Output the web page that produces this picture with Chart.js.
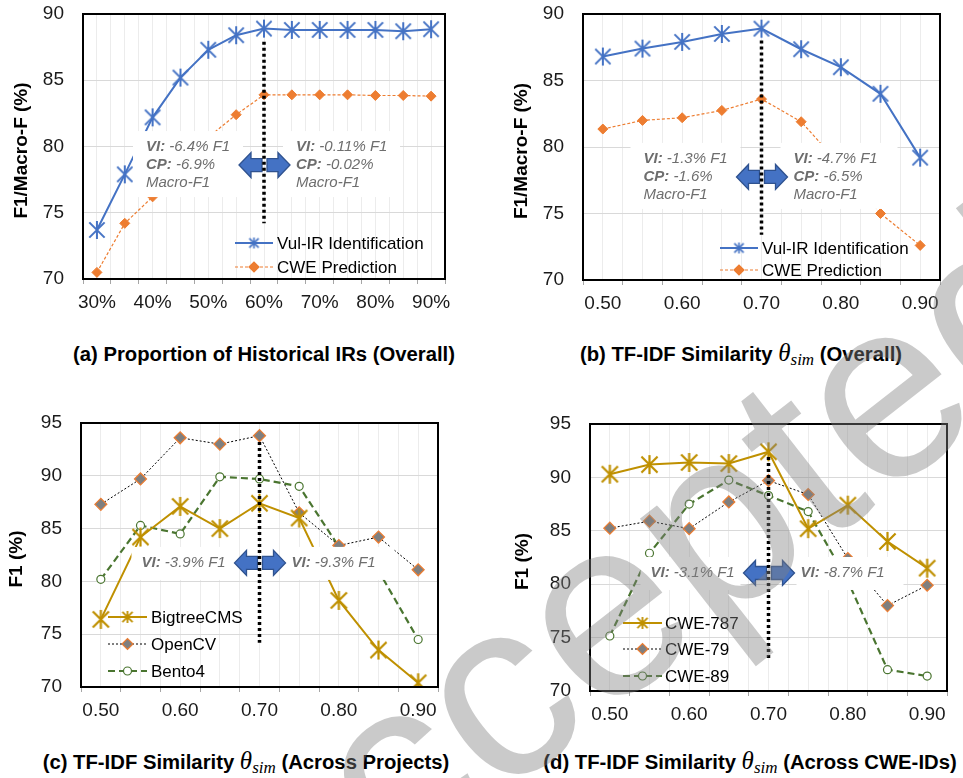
<!DOCTYPE html>
<html>
<head>
<meta charset="utf-8">
<script src="https://cdn.jsdelivr.net/npm/chart.js@4.4.1/dist/chart.umd.min.js"></script>
<style>
  html, body { margin: 0; padding: 0; background: #fff; }
  body { width: 963px; height: 778px; position: relative; overflow: hidden; font-family: "Liberation Sans", Arial, sans-serif; }
  canvas.panel { position: absolute; }
  .cap { position: absolute; transform: translate(-50%, -50%); white-space: nowrap; font-weight: bold; font-size: 20.3px; color: #000; }
  .cap .m { font-family: "Liberation Serif", "DejaVu Serif", serif; font-style: italic; font-weight: normal; font-size: 25px; }
  .cap .m sub { font-size: 17px; vertical-align: -4px; }
  #mark { position: absolute; left: 0; top: 0; pointer-events: none; }
</style>
</head>
<body>
<canvas id="pa" class="panel" width="470" height="320" style="left:0;top:0;width:470px;height:320px"></canvas>
<canvas id="pb" class="panel" width="483" height="320" style="left:480px;top:0;width:483px;height:320px"></canvas>
<canvas id="pc" class="panel" width="470" height="320" style="left:0;top:400px;width:470px;height:320px"></canvas>
<canvas id="pd" class="panel" width="483" height="320" style="left:480px;top:400px;width:483px;height:320px"></canvas>

<div class="cap" style="left:264px;top:354px">(a) Proportion of Historical IRs (Overall)</div>
<div class="cap" style="left:741px;top:354px">(b) TF-IDF Similarity <span class="m">θ<sub>sim</sub></span> (Overall)</div>
<div class="cap" style="left:246px;top:762px">(c) TF-IDF Similarity <span class="m">θ<sub>sim</sub></span> (Across Projects)</div>
<div class="cap" style="left:750px;top:762px">(d) TF-IDF Similarity <span class="m">θ<sub>sim</sub></span> (Across CWE-IDs)</div>

<canvas id="mark" width="963" height="778"></canvas>

<script>
// x categories
const proportionLabels = ["30%", "35%", "40%", "45%", "50%", "55%", "60%", "65%", "70%", "75%", "80%", "85%", "90%"];
const simLabels = ["0.50", "0.55", "0.60", "0.65", "0.70", "0.75", "0.80", "0.85", "0.90"];

// (a) proportion of historical IRs
const propVulIR = [73.7, 77.9, 82.2, 85.2, 87.3, 88.4, 88.9, 88.8, 88.8, 88.8, 88.8, 88.7, 88.85];
const propCWE = [70.5, 74.2, 76.2, 78.6, 80.7, 82.4, 83.9, 83.9, 83.9, 83.9, 83.85, 83.85, 83.8];

// (b) similarity threshold, overall
const simVulIR = [86.8, 87.4, 87.9, 88.5, 88.9, 87.35, 86.0, 84.0, 79.2];
const simCWE = [81.35, 82.0, 82.2, 82.75, 83.6, 81.9, 78.6, 75.0, 72.6];

// (c) across projects
const bigtreeF1 = [76.4, 84.2, 87.1, 85.0, 87.4, 86.0, 78.2, 73.5, 70.4];
const opencvF1 = [87.3, 89.7, 93.6, 93.0, 93.8, 86.5, 83.4, 84.2, 81.1];
const bento4F1 = [80.2, 85.3, 84.5, 89.9, 89.7, 89.0, 83.3, 81.0, 74.5];

// (d) across CWE-IDs
const cwe787F1 = [90.3, 91.2, 91.4, 91.3, 92.4, 85.2, 87.4, 84.0, 81.5];
const cwe79F1 = [85.25, 85.9, 85.2, 87.7, 89.7, 88.4, 82.4, 78.0, 79.9];
const cwe89F1 = [75.15, 82.9, 87.5, 89.75, 88.3, 86.8, 80.3, 72.0, 71.4];

const FONT = '"Liberation Sans", Arial, sans-serif';
Chart.defaults.font.family = FONT;

const BLUE = "#4472C4", ORANGE = "#ED7D31", GOLD = "#BF9000", GREEN = "#4A7530";

// excel-like asterisk marker (X plus a vertical bar)
function starMarker(size, color, lw) {
  const c = document.createElement("canvas");
  c.width = size; c.height = size;
  const g = c.getContext("2d");
  const h = size / 2, r = h - 1, d = r * 0.85;
  g.strokeStyle = color;
  g.lineWidth = lw;
  g.beginPath();
  g.moveTo(h, h - r); g.lineTo(h, h + r);
  g.moveTo(h - d, h - d); g.lineTo(h + d, h + d);
  g.moveTo(h + d, h - d); g.lineTo(h - d, h + d);
  g.stroke();
  return c;
}

const blueStar = starMarker(20, BLUE, 2);
const blueStarSmall = starMarker(13, BLUE, 1.6);
const goldStar = starMarker(21, GOLD, 2.2);
const goldStarSmall = starMarker(14, GOLD, 1.8);

const toXY = (arr) => arr.map((v, i) => ({ x: i, y: v }));

function vulIRSet(data) {
  return { label: "Vul-IR Identification", data: toXY(data), borderColor: BLUE, borderWidth: 2,
    pointStyle: blueStar, pointRadius: 10, legendMarker: { img: blueStarSmall } };
}
function cweSet(data) {
  return { label: "CWE Prediction", data: toXY(data), borderColor: ORANGE, borderWidth: 1.2, borderDash: [3, 2],
    pointStyle: "rectRot", pointRadius: 5, pointBackgroundColor: ORANGE, pointBorderColor: ORANGE, pointBorderWidth: 1,
    legendMarker: { shape: "diamond", r: 5, fill: ORANGE, stroke: ORANGE } };
}
function goldSet(label, data) {
  return { label: label, data: toXY(data), borderColor: GOLD, borderWidth: 2,
    pointStyle: goldStar, pointRadius: 10, legendMarker: { img: goldStarSmall } };
}
function graySet(label, data) {
  return { label: label, data: toXY(data), borderColor: "#000", borderWidth: 1, borderDash: [2, 2],
    pointStyle: "rectRot", pointRadius: 6, pointBackgroundColor: "#7F7F7F", pointBorderColor: ORANGE, pointBorderWidth: 1.2,
    legendMarker: { shape: "diamond", r: 5.5, fill: "#7F7F7F", stroke: ORANGE } };
}
function greenSet(label, data) {
  return { label: label, data: toXY(data), borderColor: GREEN, borderWidth: 2.2, borderDash: [7, 4],
    pointStyle: "circle", pointRadius: 4, pointBackgroundColor: "#fff", pointBorderColor: GREEN, pointBorderWidth: 1.2,
    legendMarker: { shape: "circle", r: 4, fill: "#fff", stroke: GREEN } };
}

const panels = [
  {
    id: "pa", labels: proportionLabels, ymin: 70, ymax: 90,
    box: { leftW: 83, top: 14, right: 25, bottomH: 41 },
    yTitle: "F1/Macro-F (%)", yTitleX: 22,
    datasets: [vulIRSet(propVulIR), cweSet(propCWE)],
    legend: { x1: 152, x2: 190, tx: 194, rows: [229, 253] },
    note: { at: 6, from: 87.9, to: 74.2, y: 78.6,
      left: [["VI:", " -6.4% F1"], ["CP:", " -6.9%"], ["", "Macro-F1"]],
      right: [["VI:", " -0.11% F1"], ["CP:", " -0.02%"], ["", "Macro-F1"]] }
  },
  {
    id: "pb", labels: simLabels, ymin: 70, ymax: 90,
    box: { leftW: 103, top: 14, right: 23, bottomH: 40 },
    yTitle: "F1/Macro-F (%)", yTitleX: 42,
    datasets: [vulIRSet(simVulIR), cweSet(simCWE)],
    legend: { x1: 137, x2: 175, tx: 179, rows: [234, 256] },
    note: { at: 4, from: 88.0, to: 73.4, y: 77.75,
      left: [["VI:", " -1.3% F1"], ["CP:", " -1.6%"], ["", "Macro-F1"]],
      right: [["VI:", " -4.7% F1"], ["CP:", " -6.5%"], ["", "Macro-F1"]] }
  },
  {
    id: "pc", labels: simLabels, ymin: 70, ymax: 95,
    box: { leftW: 81, top: 23, right: 32, bottomH: 33 },
    yTitle: "F1 (%)", yTitleX: 17,
    datasets: [goldSet("BigtreeCMS", bigtreeF1), graySet("OpenCV", opencvF1), greenSet("Bento4", bento4F1)],
    legend: { x1: 27, x2: 66, tx: 70, rows: [194, 221, 248] },
    note: { at: 4, from: 93.2, to: 74.2, y: 81.75,
      left: [["VI:", " -3.9% F1"]], right: [["VI:", " -9.3% F1"]] }
  },
  {
    id: "pd", labels: simLabels, ymin: 70, ymax: 95,
    box: { leftW: 110, top: 24, right: 16, bottomH: 29 },
    yTitle: "F1 (%)", yTitleX: 43,
    datasets: [goldSet("CWE-787", cwe787F1), graySet("CWE-79", cwe79F1), greenSet("CWE-89", cwe89F1)],
    legend: { x1: 33, x2: 72, tx: 75, rows: [199, 225, 252] },
    note: { at: 4, from: 91.9, to: 72.9, y: 81.05,
      left: [["VI:", " -3.1% F1"]], right: [["VI:", " -8.7% F1"]] }
  }
];

const decorById = {};

function drawArrow(ctx, xTip, xBase, xEnd, yc) {
  ctx.beginPath();
  ctx.moveTo(xTip, yc);
  ctx.lineTo(xBase, yc - 12.5);
  ctx.lineTo(xBase, yc - 6.5);
  ctx.lineTo(xEnd, yc - 6.5);
  ctx.lineTo(xEnd, yc + 6.5);
  ctx.lineTo(xBase, yc + 6.5);
  ctx.lineTo(xBase, yc + 12.5);
  ctx.closePath();
  ctx.fillStyle = BLUE;
  ctx.fill();
  ctx.strokeStyle = "#2F528F";
  ctx.lineWidth = 1.3;
  ctx.stroke();
}

function drawNoteLine(ctx, parts, x, y) {
  ctx.fillStyle = "#6e6e6e";
  ctx.textBaseline = "middle";
  ctx.textAlign = "left";
  let w = 0;
  if (parts[0]) {
    ctx.font = "italic bold 15px " + FONT;
    ctx.fillText(parts[0], x, y);
    w = ctx.measureText(parts[0]).width;
  }
  ctx.font = "italic 15px " + FONT;
  ctx.fillText(parts[1], x + w, y);
}

function drawMarker(ctx, m, x, y) {
  if (m.img) {
    ctx.drawImage(m.img, x - m.img.width / 2, y - m.img.height / 2);
    return;
  }
  ctx.setLineDash([]);
  ctx.beginPath();
  if (m.shape === "diamond") {
    ctx.moveTo(x - m.r, y); ctx.lineTo(x, y - m.r); ctx.lineTo(x + m.r, y); ctx.lineTo(x, y + m.r);
    ctx.closePath();
  } else {
    ctx.arc(x, y, m.r, 0, Math.PI * 2);
  }
  ctx.fillStyle = m.fill;
  ctx.fill();
  ctx.strokeStyle = m.stroke;
  ctx.lineWidth = 1.2;
  ctx.stroke();
}

const panelDecor = {
  id: "panelDecor",
  afterDraw(chart) {
    const p = decorById[chart.canvas.id];
    if (!p) return;
    const ctx = chart.ctx;
    const area = chart.chartArea;
    const xs = chart.scales.x, ys = chart.scales.y;
    const n = p.note;
    const lx = xs.getPixelForValue(n.at);
    const cy = ys.getPixelForValue(n.y);
    const three = n.left.length > 1;

    ctx.save();
    // white label boxes hiding the lines behind the notes
    ctx.fillStyle = "#fff";
    if (three) {
      ctx.fillRect(lx - 131, cy - 34, 110, 66);
      ctx.fillRect(lx + 19, cy - 34, 117, 66);
    } else {
      ctx.fillRect(lx - 128, cy - 16, 100, 33);
      ctx.fillRect(lx + 28, cy - 16, 107, 33);
    }
    const step = 18;
    const y0 = cy - step * (n.left.length - 1) / 2;
    n.left.forEach((parts, i) => drawNoteLine(ctx, parts, lx - 118, y0 + i * step));
    n.right.forEach((parts, i) => drawNoteLine(ctx, parts, lx + 32, y0 + i * step));

    drawArrow(ctx, lx - 25, lx - 13, lx - 2, cy);
    drawArrow(ctx, lx + 26, lx + 14, lx + 3, cy);

    // dotted marker at the chosen setting
    ctx.strokeStyle = "#000";
    ctx.lineWidth = 3.5;
    ctx.setLineDash([3, 3]);
    ctx.beginPath();
    ctx.moveTo(lx, ys.getPixelForValue(n.from));
    ctx.lineTo(lx, ys.getPixelForValue(n.to));
    ctx.stroke();

    // legend inside the plot
    const lg = p.legend;
    chart.data.datasets.forEach((ds, i) => {
      const y = area.top + lg.rows[i];
      const x1 = area.left + lg.x1, x2 = area.left + lg.x2;
      ctx.setLineDash(ds.borderDash || []);
      ctx.strokeStyle = ds.borderColor;
      ctx.lineWidth = ds.borderWidth;
      ctx.beginPath();
      ctx.moveTo(x1, y);
      ctx.lineTo(x2, y);
      ctx.stroke();
      drawMarker(ctx, ds.legendMarker, (x1 + x2) / 2, y);
      ctx.fillStyle = "#000";
      ctx.font = "17px " + FONT;
      ctx.textAlign = "left";
      ctx.textBaseline = "middle";
      ctx.fillText(ds.label, area.left + lg.tx, y + 1);
    });

    // plot frame
    ctx.setLineDash([]);
    ctx.strokeStyle = "#000";
    ctx.lineWidth = 2;
    ctx.strokeRect(area.left, area.top, area.right - area.left, area.bottom - area.top);

    // y axis title
    ctx.translate(p.yTitleX, (area.top + area.bottom) / 2 + 4);
    ctx.rotate(-Math.PI / 2);
    ctx.font = "bold 19px " + FONT;
    ctx.fillStyle = "#000";
    ctx.textAlign = "center";
    ctx.textBaseline = "middle";
    ctx.fillText(p.yTitle, 0, 0);
    ctx.restore();
  }
};

Chart.register(panelDecor);

const isWhole = (v) => Math.abs(v - Math.round(v)) < 1e-6;

panels.forEach((p) => {
  decorById[p.id] = p;
  const count = p.labels.length;
  new Chart(document.getElementById(p.id), {
    type: "line",
    data: { datasets: p.datasets },
    options: {
      responsive: false,
      animation: false,
      devicePixelRatio: 1,
      layout: { padding: { left: 0, top: p.box.top, right: p.box.right, bottom: 0 } },
      elements: { line: { tension: 0, fill: false } },
      plugins: { legend: { display: false }, tooltip: { enabled: false } },
      scales: {
        x: {
          type: "linear",
          min: -0.5,
          max: count - 0.5,
          border: { display: false },
          grid: {
            color: "#ececec",
            lineWidth: 1,
            tickLength: 5,
            tickColor: (c) => (c.tick && !isWhole(c.tick.value) ? "#a6a6a6" : "rgba(0,0,0,0)")
          },
          ticks: {
            stepSize: 0.5,
            autoSkip: false,
            maxRotation: 0,
            padding: 7,
            color: "#1a1a1a",
            font: { size: 19 },
            callback: (v) => {
              if (!isWhole(v)) return "";
              const i = Math.round(v);
              return i % 2 === 0 ? p.labels[i] : "";
            }
          },
          afterFit: (s) => { s.height = p.box.bottomH; }
        },
        y: {
          min: p.ymin,
          max: p.ymax,
          border: { display: false },
          // invisible tick marks keep the labels away from the frame without extra top padding
          grid: { color: "#d9d9d9", drawTicks: true, tickLength: 17, tickColor: "rgba(0,0,0,0)" },
          ticks: { stepSize: 5, padding: 2, color: "#1a1a1a", font: { size: 19 } },
          afterFit: (s) => { s.width = p.box.leftW; }
        }
      }
    }
  });
});

// "Accepted" stamp over the figure
(function () {
  const ctx = document.getElementById("mark").getContext("2d");
  ctx.save();
  ctx.translate(263, 984);
  ctx.rotate(-38 * Math.PI / 180);
  ctx.font = "255px " + FONT;
  ctx.fillStyle = "rgba(128,128,128,0.42)";
  ctx.textBaseline = "alphabetic";
  ctx.fillText("Accepted", 0, 0);
  ctx.restore();
})();
</script>
</body>
</html>
